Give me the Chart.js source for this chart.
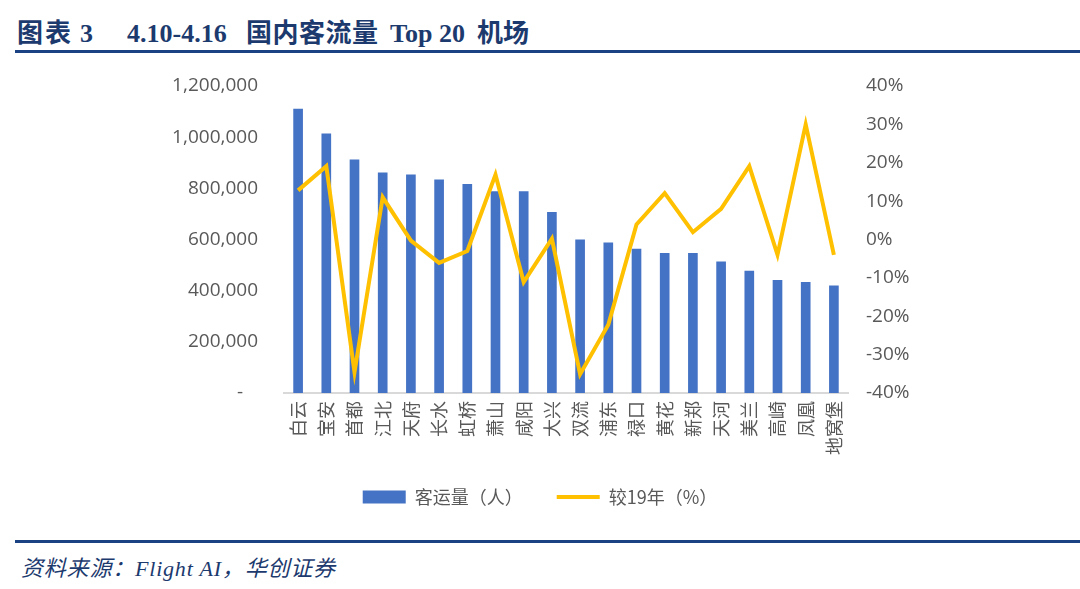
<!DOCTYPE html>
<html>
<head>
<meta charset="utf-8">
<script src="https://cdn.jsdelivr.net/npm/chart.js@4.4.0/dist/chart.umd.min.js"></script>
<style>
  html, body { margin: 0; padding: 0; background: #fff; }
  body { width: 1080px; height: 589px; position: relative; overflow: hidden; }
  #title {
    position: absolute; left: 17px; top: 12px; white-space: pre;
    font: bold 26px "Liberation Serif", "Noto Sans CJK SC", serif; color: #1c3a6e;
  }
  #title span { display: inline-block; }
  .rule { position: absolute; left: 15px; right: 0; height: 3px; background: #1b4283; }
  #source {
    position: absolute; left: 21px; top: 550px; white-space: pre; letter-spacing: 0.8px;
    font: italic 22px "Liberation Serif", "Noto Sans CJK SC", serif; color: #1c3a6e;
  }
  #wrap { position: absolute; left: 0; top: 0; width: 1080px; height: 516px; }
</style>
</head>
<body>
<div id="title"><span style="width:63px; letter-spacing:2px">图表</span><span style="width:47px">3</span><span style="width:119px">4.10-4.16</span><span style="width:144px; letter-spacing:0.5px">国内客流量</span><span style="width:87px">Top 20</span><span>机场</span></div>
<div class="rule" style="top:50px"></div>
<div id="wrap"><canvas id="airportChart"></canvas></div>
<div class="rule" style="top:540px"></div>
<div id="source">资料来源：Flight AI，华创证券</div>

<script>
// Airports (x axis categories)
const airports = ['白云', '宝安', '首都', '江北', '天府', '长水', '虹桥', '萧山', '咸阳', '大兴',
                  '双流', '浦东', '禄口', '黄花', '新郑', '天河', '美兰', '高崎', '凤凰', '地窝堡'];

// Passengers for the week (people)
const passengers = [1110000, 1013000, 911000, 861000, 853000, 833000, 816000, 787000, 787000, 706000,
                    599000, 587000, 563000, 546000, 546000, 513000, 477000, 440000, 433000, 419000];

// Change vs 2019 (%)
const vs2019 = [12.8, 19.1, -34.6, 11.0, -0.3, -6.1, -3.0, 16.9, -11.1, 0.2,
                -35.1, -22.2, 3.9, 12.1, 1.9, 8.0, 19.1, -4.0, 30.0, -4.0];

const labelColor = '#595959';
const cjkFont = { family: '"Noto Sans CJK SC", sans-serif', size: 18 };
const numFont = { family: '"Open Sans", "Noto Sans CJK SC", sans-serif', size: 19 };

const ctx = document.getElementById('airportChart').getContext('2d');

new Chart(ctx, {
    data: {
        labels: airports,
        datasets: [
            {
                type: 'bar',
                // trailing ideographic space widens the gap to the next legend item
                label: '客运量（人）\u3000',
                data: passengers,
                backgroundColor: '#4472C4',
                borderWidth: 0,
                barThickness: 9,
                yAxisID: 'y',
                order: 2
            },
            {
                type: 'line',
                label: '较19年（%）',
                data: vs2019,
                borderColor: '#FFC000',
                backgroundColor: '#FFC000',
                borderWidth: 4,
                pointRadius: 0,
                tension: 0,
                fill: false,
                yAxisID: 'y2',
                order: 1
            }
        ]
    },
    options: {
        responsive: true,
        maintainAspectRatio: false,
        animation: false,
        layout: { padding: { top: 86, bottom: 0, left: 0, right: 0 } },
        plugins: {
            tooltip: { enabled: false },
            legend: {
                position: 'bottom',
                labels: {
                    usePointStyle: true,
                    pointStyleWidth: 43,
                    boxHeight: 13,
                    padding: 25,
                    color: labelColor,
                    font: cjkFont,
                    generateLabels(chart) {
                        return chart.data.datasets.map((ds, i) => ({
                            text: ds.label,
                            fillStyle: ds.backgroundColor,
                            strokeStyle: i === 0 ? ds.backgroundColor : ds.borderColor,
                            lineWidth: i === 0 ? 0 : 4,
                            pointStyle: i === 0 ? 'rect' : 'line',
                            fontColor: labelColor,
                            hidden: false,
                            datasetIndex: i
                        }));
                    }
                }
            }
        },
        scales: {
            x: {
                grid: { display: false, drawTicks: false },
                border: { display: true, color: '#d9d9d9', width: 2 },
                ticks: {
                    color: labelColor, font: cjkFont,
                    minRotation: 90, maxRotation: 90, autoSkip: false, padding: 8
                },
                afterFit(scale) { scale.height = 70; }
            },
            y: {
                position: 'left',
                min: 0, max: 1200000,
                grid: { display: false, drawTicks: false },
                border: { display: false },
                ticks: {
                    stepSize: 200000, color: labelColor, font: numFont, padding: 26,
                    callback: v => v === 0 ? '-   ' : v.toLocaleString('en-US')
                },
                afterFit(scale) { scale.width = 284; }
            },
            y2: {
                position: 'right',
                min: -40, max: 40,
                grid: { display: false, drawTicks: false },
                border: { display: false },
                ticks: {
                    stepSize: 10, color: labelColor, font: numFont, padding: 18,
                    callback: v => v + '%'
                },
                afterFit(scale) { scale.width = 232; }
            }
        }
    }
});
</script>
</body>
</html>
